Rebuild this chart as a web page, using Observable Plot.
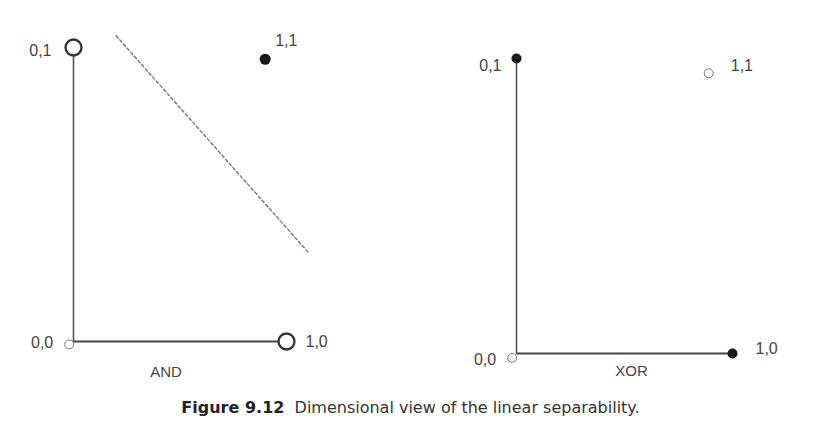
<!DOCTYPE html>
<html><head><meta charset="utf-8">
<script src="https://cdn.jsdelivr.net/npm/d3@7"></script>
<script src="https://cdn.jsdelivr.net/npm/@observablehq/plot@0.6"></script>
<style>
body{margin:0;background:#fff;}
#wrap{position:relative;width:821px;height:426px;overflow:hidden;font-family:"Liberation Sans",Arial,sans-serif;background:#fff;}
#left{position:absolute;left:0;top:0}
#right{position:absolute;left:410px;top:0}
#cap{position:absolute;left:0;top:398px;width:821px;text-align:center;font-family:"DejaVu Sans",sans-serif;font-size:16px;line-height:19px;color:#333;white-space:pre;}
#cap b{color:#222}
</style></head><body>
<div id="wrap"><div id="left"></div><div id="right"></div>
<div id="cap"><b>Figure 9.12</b>  Dimensional view of the linear separability.</div></div>
<script>
// data
const pointLabels = ["0,1", "0,0", "1,0", "1,1"];
const andX = [0, -0.02, 1, 0.9];
const andY = [1, -0.01, 0, 0.96];
const andKind = ["ring", "small", "ring", "dot"];
const xorX = [0, -0.02, 1, 0.89];
const xorY = [1, -0.015, 0, 0.95];
const xorKind = ["dot", "small", "dot", "small"];
const andBoundaryX = [0.2, 1.1];
const andBoundaryY = [1.04, 0.305];
const panelNames = ["AND", "XOR"];

// label placement (styles)
const labelOffsets = {
  AND: {"0,1": [-22, 3, "end"], "0,0": [-16, -2, "end"], "1,0": [19, 0, "start"], "1,1": [10, -18, "start"]},
  XOR: {"0,1": [-15, 7, "end"], "0,0": [-16, 2, "end"], "1,0": [23, -5, "start"], "1,1": [22, -7, "start"]}
};

function panel(name, xs, ys, kinds, layout, boundary) {
  const pts = pointLabels.map((l, i) => ({label: l, x: xs[i], y: ys[i], kind: kinds[i]}));
  const off = labelOffsets[name];
  const marks = [
    Plot.ruleX([0], {y1: 0, y2: 1, stroke: "#555", strokeWidth: 1.6}),
    Plot.ruleY([0], {x1: 0, x2: 1, stroke: "#444", strokeWidth: 2})
  ];
  if (boundary) {
    marks.push(Plot.line(d3.zip(boundary[0], boundary[1]), {x: d => d[0], y: d => d[1], stroke: "#777", strokeWidth: 1.4, strokeDasharray: "3,2.5"}));
  }
  marks.push(
    Plot.dot(pts.filter(d => d.kind === "ring"), {x: "x", y: "y", r: 8, fill: "white", stroke: "#333", strokeWidth: 2.3}),
    Plot.dot(pts.filter(d => d.kind === "small"), {x: "x", y: "y", r: 4.5, fill: "white", stroke: "#777", strokeWidth: 1}),
    Plot.dot(pts.filter(d => d.kind === "dot"), {x: "x", y: "y", r: layout.dotR, fill: "#1a1a1a"})
  );
  for (const p of pts) {
    const [dx, dy, anchor] = off[p.label];
    marks.push(Plot.text([p], {x: "x", y: "y", text: "label", dx, dy, textAnchor: anchor, fill: "#444", fontSize: 16}));
  }
  marks.push(Plot.text([name], {frameAnchor: "bottom", dx: layout.nameDx, dy: layout.nameDy, fill: "#444", fontSize: 15}));
  return Plot.plot({
    width: layout.width, height: 390,
    marginLeft: layout.ml, marginRight: layout.mr, marginTop: layout.mt, marginBottom: layout.mb,
    x: {domain: [0, 1], axis: null},
    y: {domain: [0, 1], axis: null},
    style: {background: "white", fontFamily: "'Liberation Sans', Arial, sans-serif", overflow: "visible"},
    marks
  });
}

document.getElementById("left").append(panel(panelNames[0], andX, andY, andKind,
  {width: 410, ml: 73, mr: 124, mt: 47, mb: 49, dotR: 5.5, nameDx: -14, nameDy: 35}, [andBoundaryX, andBoundaryY]));
document.getElementById("right").append(panel(panelNames[1], xorX, xorY, xorKind,
  {width: 411, ml: 106, mr: 89, mt: 58, mb: 37, dotR: 5, nameDx: 7, nameDy: 22}, null));
</script>
</body></html>
